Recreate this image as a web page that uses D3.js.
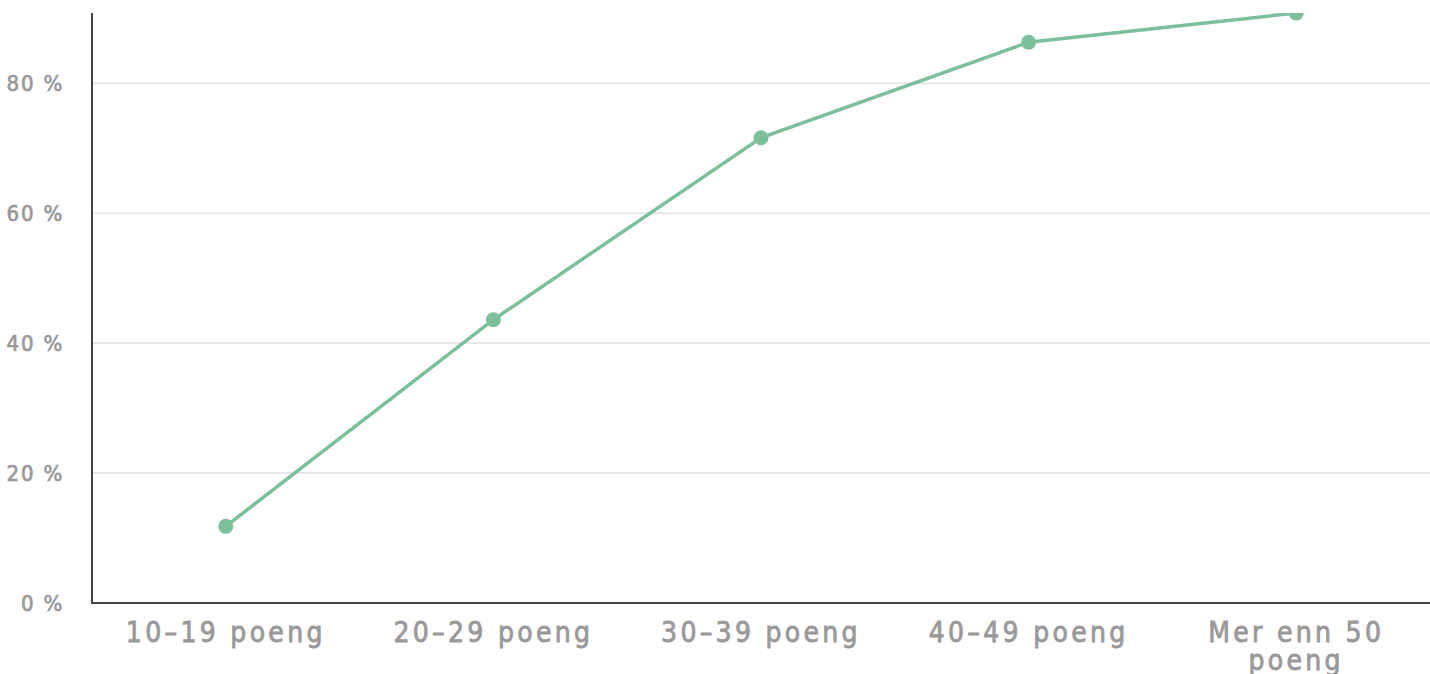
<!DOCTYPE html>
<html>
<head>
<meta charset="utf-8">
<script src="https://cdn.jsdelivr.net/npm/d3@7"></script>
<style>
  html, body { margin: 0; padding: 0; background: #fff; }
  svg { display: block; font-family: "DejaVu Sans Condensed", "DejaVu Sans", sans-serif; }
</style>
</head>
<body>
<svg id="chart" width="1430" height="674"></svg>
<script>
const categories = ["10–19 poeng", "20–29 poeng", "30–39 poeng", "40–49 poeng", "Mer enn 50 poeng"]
const values = [11.8, 43.6, 71.6, 86.3, 90.8]
const yTicks = [0, 20, 40, 60, 80]

const width = 1430
const height = 674
const margin = { top: 13, right: 0, bottom: 71, left: 92 }
const green = "#7bbf9b"
const textGrey = "#999"

const svg = d3.select("#chart")

const x = d3.scaleBand()
  .domain(categories)
  .range([margin.left, width - margin.right])

const y = d3.scaleLinear()
  .domain([0, d3.max(values)])
  .range([height - margin.bottom, margin.top])

// gridlines
svg.append("g")
  .selectAll("line")
  .data(yTicks.filter(d => d > 0))
  .join("line")
    .attr("x1", margin.left)
    .attr("x2", width - margin.right)
    .attr("y1", d => y(d))
    .attr("y2", d => y(d))
    .attr("stroke", "#e6e6e6")
    .attr("stroke-width", 2)

// y labels
svg.append("g")
  .selectAll("text")
  .data(yTicks)
  .join("text")
    .attr("x", 64)
    .attr("y", d => y(d))
    .attr("dy", "0.36em")
    .attr("text-anchor", "end")
    .attr("fill", textGrey)
    .attr("stroke", textGrey)
    .attr("stroke-width", 0.7)
    .attr("font-size", 22)
    .attr("letter-spacing", 1.8)
    .text(d => d + " %")

// clip plot area
svg.append("clipPath")
  .attr("id", "plot")
  .append("rect")
    .attr("x", margin.left)
    .attr("y", margin.top)
    .attr("width", width - margin.left - margin.right)
    .attr("height", height - margin.top - margin.bottom)

const cx = d => x(d) + x.bandwidth() / 2
const line = d3.line()
  .x((d, i) => cx(categories[i]))
  .y(d => y(d))

const plot = svg.append("g").attr("clip-path", "url(#plot)")

plot.append("path")
  .datum(values)
  .attr("fill", "none")
  .attr("stroke", green)
  .attr("stroke-width", 3.5)
  .attr("d", line)

plot.selectAll("circle")
  .data(values)
  .join("circle")
    .attr("cx", (d, i) => cx(categories[i]))
    .attr("cy", d => y(d))
    .attr("r", 7.5)
    .attr("fill", green)

// axes lines
svg.append("line")
  .attr("x1", margin.left).attr("x2", margin.left)
  .attr("y1", margin.top).attr("y2", height - margin.bottom + 1)
  .attr("stroke", "#444").attr("stroke-width", 2)
svg.append("line")
  .attr("x1", margin.left - 1).attr("x2", width - margin.right)
  .attr("y1", height - margin.bottom).attr("y2", height - margin.bottom)
  .attr("stroke", "#444").attr("stroke-width", 2)

// x labels, wrap the long one
const wrap = { "Mer enn 50 poeng": ["Mer enn 50", "poeng"] }
const xl = svg.append("g")
  .selectAll("text")
  .data(categories)
  .join("text")
    .attr("x", d => cx(d))
    .attr("y", 642)
    .attr("text-anchor", "middle")
    .attr("fill", textGrey)
    .attr("stroke", textGrey)
    .attr("stroke-width", 0.8)
    .attr("font-size", 28)
    .attr("letter-spacing", 3.3)
xl.each(function(d) {
  const lines = wrap[d] || [d]
  d3.select(this).selectAll("tspan")
    .data(lines)
    .join("tspan")
      .attr("x", cx(d))
      .attr("dy", (l, i) => i ? 28 : 0)
      .text(l => l)
})
</script>
</body>
</html>
